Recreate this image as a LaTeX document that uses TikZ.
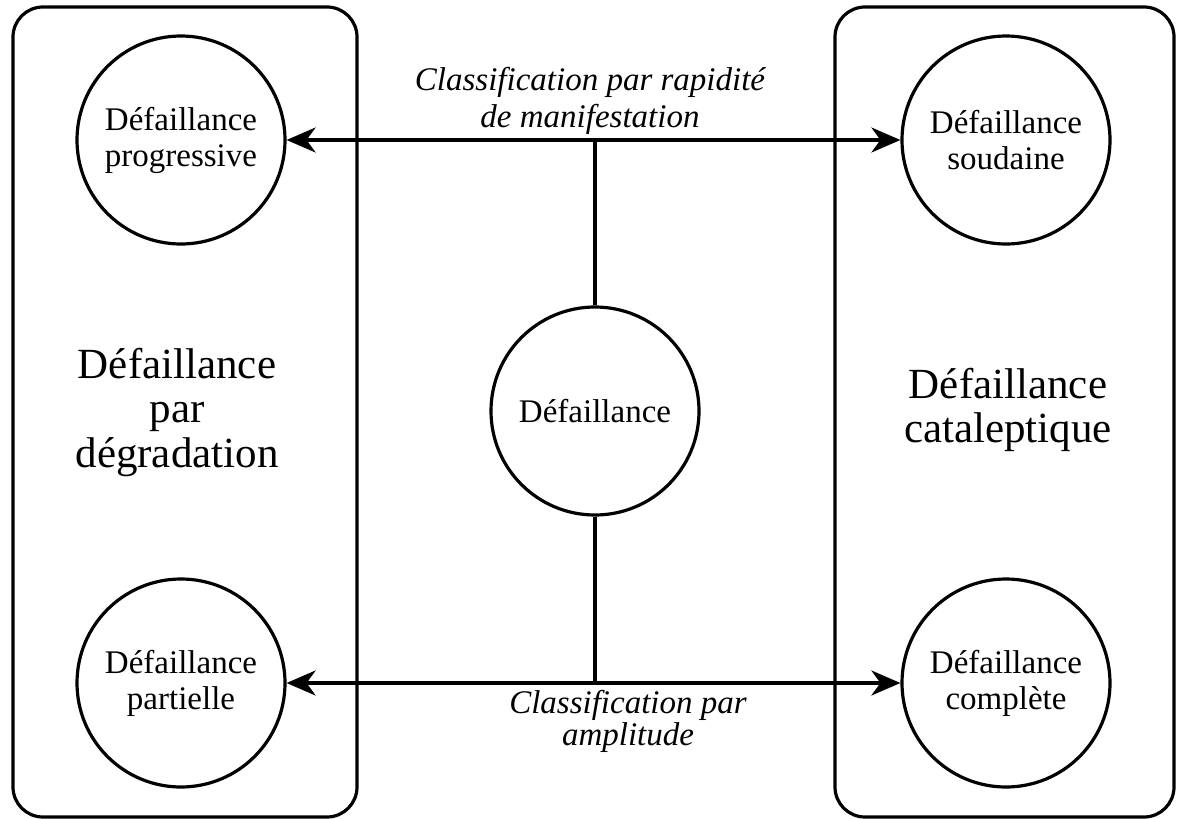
\documentclass[tikz,border=0pt]{standalone}
\usepackage{fontspec}
\setmainfont{Liberation Serif}
\usetikzlibrary{arrows.meta}
\tikzset{
  frame/.style={line width=3.2pt, rounded corners=30pt},
  state/.style={circle, draw, line width=3.2pt, minimum size=208pt, inner sep=0pt,
    align=center, font=\fontsize{33}{36}\selectfont},
  link/.style={line width=3.2pt},
  biarrow/.style={line width=3.2pt, {Stealth[length=29pt,width=25pt,inset=9pt]}-{Stealth[length=29pt,width=25pt,inset=9pt]}},
  bigtxt/.style={anchor=base, inner sep=0pt, font=\fontsize{43}{44}\selectfont},
  cls/.style={anchor=base, inner sep=0pt, font=\fontsize{33}{37}\selectfont\itshape}
}
\begin{document}
\begin{tikzpicture}[x=1pt,y=-1pt]
  \useasboundingbox (0,0) rectangle (1178,819);

  % the two families of failure
  \draw[frame] (13,7) rectangle (357,817);
  \draw[frame] (835,7) rectangle (1174,817);

  \node[bigtxt] (degA) at (177,378) {Défaillance};
  \node[bigtxt] (degB) at (177,422) {par};
  \node[bigtxt] (degC) at (177,467) {dégradation};
  \node[bigtxt] (catA) at (1008,398) {Défaillance};
  \node[bigtxt] (catB) at (1008,442) {cataleptique};

  % failure kinds
  \node[state] (c)  at (595,411)  {Défaillance};
  \node[state] (tl) at (181,140)  {Défaillance\\progressive};
  \node[state] (tr) at (1006,140) {Défaillance\\soudaine};
  \node[state] (bl) at (181,683)  {Défaillance\\partielle};
  \node[state] (br) at (1006,683) {Défaillance\\complète};

  % classification axes
  \draw[biarrow] (tl) -- (tr);
  \draw[biarrow] (bl) -- (br);
  \draw[link] (c.north) -- (c.north |- tl.east);
  \draw[link] (c.south) -- (c.south |- bl.east);

  \node[cls] (rapA) at (590,90)  {Classification par rapidité};
  \node[cls] (rapB) at (590,127) {de manifestation};
  \node[cls] (ampA) at (628,713) {Classification par};
  \node[cls] (ampB) at (628,745) {amplitude};
\end{tikzpicture}
\end{document}
